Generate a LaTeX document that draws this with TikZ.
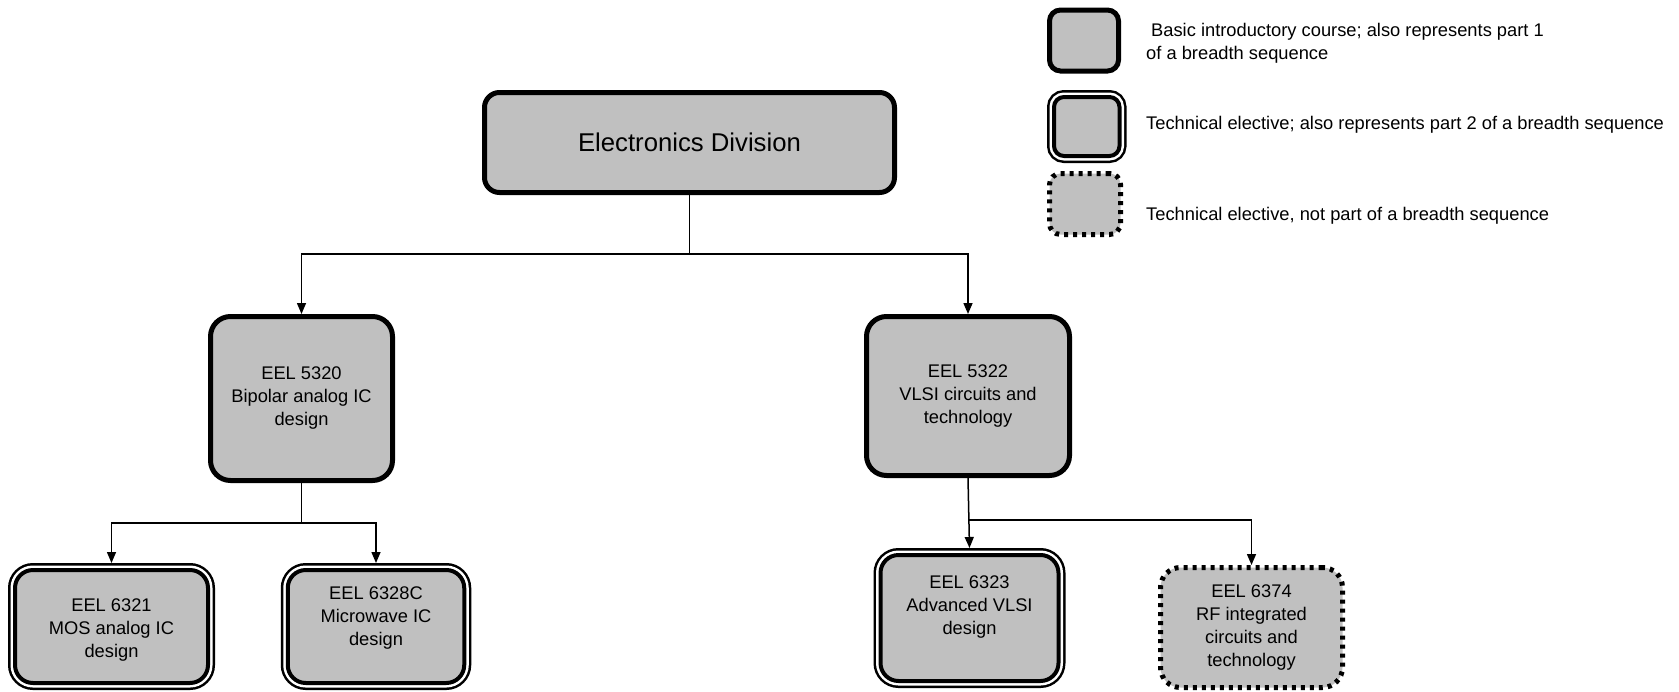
\documentclass[tikz,border=0pt]{standalone}
\usepackage{fontspec}
\setmainfont{Liberation Sans}
\usetikzlibrary{arrows.meta}
\definecolor{boxgray}{RGB}{192,192,192}
\tikzset{
  base/.style={rectangle, fill=boxgray, inner sep=0pt, align=center, font=\fontsize{18.3pt}{23pt}\selectfont},
  basic/.style={base, draw=black, line width=5pt, rounded corners=20pt},
  dbl/.style={base, draw=black, line width=4pt, rounded corners=18pt, outer sep=7pt,
     preaction={draw=black, line width=14pt}, preaction={draw=white, line width=9pt}},
  dots/.style={base, draw=black, line width=5pt, rounded corners=20pt, dash pattern=on 4pt off 5pt},
  txt/.style={inner sep=0pt, align=center, font=\fontsize{18.3pt}{23pt}\selectfont},
  ltxt/.style={inner sep=0pt, align=left, font=\fontsize{18.3pt}{23pt}\selectfont},
  conn/.style={line width=1.5pt},
  arr/.style={conn, -{Triangle[length=11pt,width=9pt]}}
}
\begin{document}
\begin{tikzpicture}[x=1pt,y=-1pt]
\useasboundingbox (0,0) rectangle (1679,691);
% main tree
\node[basic, rounded corners=15pt, minimum width=410pt, minimum height=100pt, font=\fontsize{25.7pt}{30pt}\selectfont] (ed) at (689.5,142.5) {Electronics Division};
\node[basic, minimum width=182pt, minimum height=164pt] (c5320) at (301.5,398.5) {EEL 5320\\Bipolar analog IC\\design};
\node[basic, minimum width=203pt, minimum height=159pt] (c5322) at (968,396) {EEL 5322\\VLSI circuits and\\technology};
\node[dbl, minimum width=193pt, minimum height=113pt] (c6321) at (111.5,626.5) {};
\node[txt] (t6321) at (111.5,630) {EEL 6321\\MOS analog IC\\design};
\node[dbl, minimum width=176.5pt, minimum height=113pt] (c6328) at (376,626.5) {};
\node[txt] (t6328) at (376,618) {EEL 6328C\\Microwave IC\\design};
\node[dbl, minimum width=178pt, minimum height=126pt] (c6323) at (969.5,618) {};
\node[txt] (t6323) at (969.5,607) {EEL 6323\\Advanced VLSI\\design};
\node[dots, minimum width=182pt, minimum height=120pt] (c6374) at (1251.5,627.5) {EEL 6374\\RF integrated\\circuits and\\technology};
% connectors
\coordinate (j1) at (ed.south |- 0,254);
\draw[conn] (ed.south) -- (j1);
\draw[arr] (j1) -| (c5320.north);
\draw[arr] (j1) -| (c5322.north);
\coordinate (j2) at (c5320.south |- 0,523);
\draw[conn] (c5320.south) -- (j2);
\draw[arr] (j2) -| (c6321.north);
\draw[arr] (j2) -| (c6328.north);
\coordinate (j3) at (c5322.south |- 0,520);
\draw[arr] (c5322.south) -- (c6323.north);
\draw[arr] (j3) -| (c6374.north);
% legend
\node[basic, rounded corners=11pt, minimum width=69pt, minimum height=61pt] (l1) at (1084,40.5) {};
\node[dbl, rounded corners=10pt, minimum width=65.5pt, minimum height=59pt] (l2) at (1086.75,126.5) {};
\node[dots, rounded corners=11pt, minimum width=71pt, minimum height=61pt] (l3) at (1085,204) {};
\node[ltxt, anchor=west] (lt1) at (1146,43.5) {\hspace{5pt}Basic introductory course; also represents part 1\\of a breadth sequence};
\node[ltxt, anchor=west] (lt2) at (1146,125) {Technical elective; also represents part 2 of a breadth sequence};
\node[ltxt, anchor=west] (lt3) at (1146,216) {Technical elective, not part of a breadth sequence};
\end{tikzpicture}
\end{document}
